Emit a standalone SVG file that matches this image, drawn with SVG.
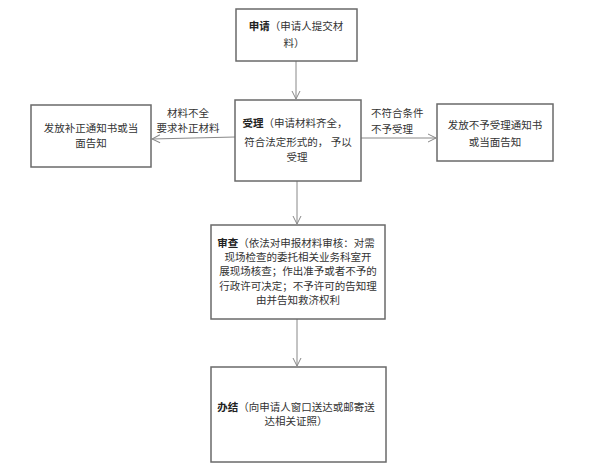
<svg xmlns="http://www.w3.org/2000/svg" width="600" height="475" viewBox="0 0 600 475">
<style>
.box{fill:#fff;stroke:#6a6a6a;stroke-width:1.5}
.t{font-family:"Noto Sans CJK SC",sans-serif;font-size:10.5px;fill:#333;text-anchor:middle}
.l{font-family:"Noto Sans CJK SC",sans-serif;font-size:10.5px;fill:#333}
.b{font-weight:bold;fill:#222}
.c{stroke:#888;stroke-width:1;fill:none;marker-end:url(#ah)}
</style>
<defs>
<marker id="ah" markerWidth="10" markerHeight="10" refX="9" refY="5" orient="auto" markerUnits="userSpaceOnUse">
<path d="M1,1 L9,5 L1,9" fill="none" stroke="#888" stroke-width="1"/>
</marker>
</defs>
<rect width="600" height="475" fill="#fff"/>
<g id="connectors">
<line class="c" x1="296" y1="61" x2="296" y2="99"/>
<line class="c" x1="235" y1="137" x2="152" y2="139"/>
<line class="c" x1="361" y1="138" x2="436" y2="138"/>
<line class="c" x1="297" y1="181" x2="297" y2="224"/>
<line class="c" x1="297" y1="319" x2="297" y2="366"/>
<text class="t" x="188" y="117">材料不全</text>
<text class="t" x="188" y="132">要求补正材料</text>
<text class="l" x="371" y="117">不符合条件</text>
<text class="l" x="371" y="133">不予受理</text>
</g>
<g id="n1">
<rect class="box" x="236" y="9" width="121" height="52"/>
<text class="t" x="296" y="30"><tspan class="b">申请</tspan>（申请人提交材</text>
<text class="t" x="294" y="47">料）</text>
</g>
<g id="n2">
<rect class="box" x="235" y="100" width="126" height="81"/>
<text class="t" x="295" y="127"><tspan class="b">受理</tspan>（申请材料齐全，</text>
<text class="t" x="298" y="146">符合法定形式的， 予以</text>
<text class="t" x="297" y="161">受理</text>
</g>
<g id="n3">
<rect class="box" x="31" y="105" width="120" height="62"/>
<text class="t" x="91" y="132">发放补正通知书或当</text>
<text class="t" x="91" y="147">面告知</text>
</g>
<g id="n4">
<rect class="box" x="437" y="104" width="116" height="57"/>
<text class="t" x="495" y="129">发放不予受理通知书</text>
<text class="t" x="495" y="146">或当面告知</text>
</g>
<g id="n5">
<rect class="box" x="211" y="225" width="174" height="94"/>
<text class="t" x="296" y="247"><tspan class="b">审查</tspan>（依法对申报材料审核：对需</text>
<text class="t" x="298" y="261">现场检查的委托相关业务科室开</text>
<text class="t" x="298" y="275">展现场核查；作出准予或者不予的</text>
<text class="t" x="298" y="290">行政许可决定；不予许可的告知理</text>
<text class="t" x="298" y="304">由并告知救济权利</text>
</g>
<g id="n6">
<rect class="box" x="211" y="367" width="175" height="95"/>
<text class="t" x="296" y="411"><tspan class="b">办结</tspan>（向申请人窗口送达或邮寄送</text>
<text class="t" x="296" y="425">达相关证照）</text>
</g>
</svg>
